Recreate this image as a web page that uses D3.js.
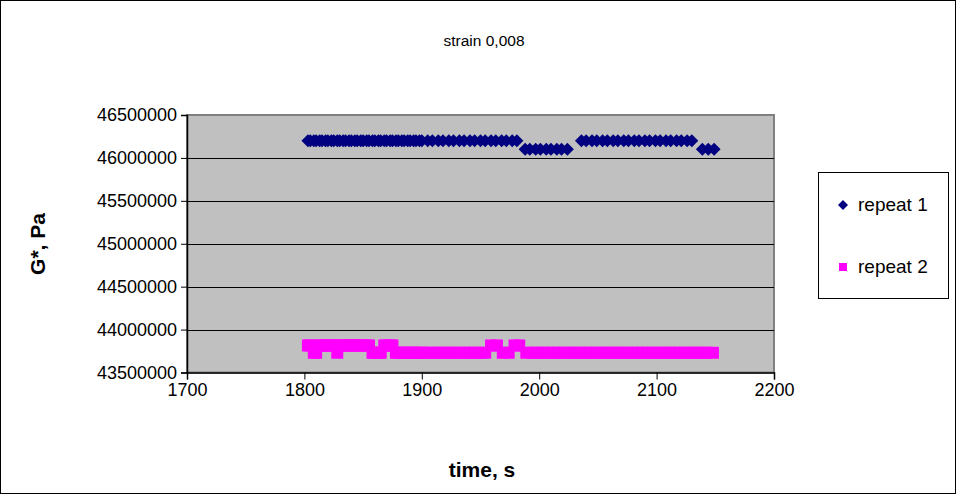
<!DOCTYPE html>
<html><head><meta charset="utf-8">
<script src="https://cdn.jsdelivr.net/npm/d3@7"></script>
<style>
html,body{margin:0;padding:0;background:#fff;}
svg{display:block;font-family:"Liberation Sans",Arial,sans-serif;}
</style></head>
<body>
<svg id="chart" width="957" height="495"></svg>
<script>
// ---- data ----
const chartTitle = "strain 0,008";
const xTicks = [1700, 1800, 1900, 2000, 2100, 2200];
const yTicks = [43500000, 44000000, 44500000, 45000000, 45500000, 46000000, 46500000];
const seriesNames = ["repeat 1", "repeat 2"];

const time1 = [1803,1805,1808,1810,1813,1815,1818,1820,1823,1825,1828,1830,1833,1835,1838,1840,1843,1845,1848,1850,
  1853,1855,1858,1860,1863,1865,1868,1870,1873,1875,1878,1880,1883,1885,1888,1890,1893,1895,1898,1900,
  1905,1909,1914,1918,1923,1927,1932,1936,1941,1945,1950,1954,1959,1963,1968,1972,1977,1981,
  1988,1992,1997,2001,2006,2010,2015,2019,2024,
  2036,2040,2045,2049,2054,2058,2063,2067,2072,2076,2081,2085,2090,2094,2099,2103,2108,2112,2117,2121,2126,2130,
  2139,2144,2149];
const g1 = [46200000,46200000,46200000,46200000,46200000,46200000,46200000,46200000,46200000,46200000,
  46200000,46200000,46200000,46200000,46200000,46200000,46200000,46200000,46200000,46200000,
  46200000,46200000,46200000,46200000,46200000,46200000,46200000,46200000,46200000,46200000,
  46200000,46200000,46200000,46200000,46200000,46200000,46200000,46200000,46200000,46200000,
  46200000,46200000,46200000,46200000,46200000,46200000,46200000,46200000,46200000,46200000,
  46200000,46200000,46200000,46200000,46200000,46200000,46200000,46200000,
  46100000,46100000,46100000,46100000,46100000,46100000,46100000,46100000,46100000,
  46200000,46200000,46200000,46200000,46200000,46200000,46200000,46200000,46200000,46200000,46200000,
  46200000,46200000,46200000,46200000,46200000,46200000,46200000,46200000,46200000,46200000,46200000,
  46100000,46100000,46100000];

const time2 = [1803,1805,1808,1810,1813,1815,1818,1820,1823,1825,1828,1830,1833,1835,1838,1840,1843,1845,1848,1850,
  1853,1855,1858,1860,1863,1865,1868,1870,1873,1875,1878,1880,1883,1885,1888,1890,1893,1895,1898,1900,
  1905,1909,1914,1918,1923,1927,1932,1936,1941,1945,1950,1954,1959,1964,1969,1974,1979,1983,
  1989,1994,1998,2003,2007,2012,2016,2021,2025,2030,2034,2039,2043,2048,2052,2057,2061,2066,2070,2075,
  2079,2084,2088,2093,2097,2102,2106,2111,2115,2120,2124,2129,2133,2138,2142,2148];
const g2 = [43815000,43815000,43730000,43730000,43815000,43815000,43815000,43815000,43815000,43815000,
  43730000,43815000,43815000,43815000,43815000,43815000,43815000,43815000,43815000,43815000,
  43815000,43815000,43730000,43730000,43730000,43730000,43815000,43815000,43815000,43815000,
  43730000,43730000,43730000,43730000,43730000,43730000,43730000,43730000,43730000,43730000,
  43730000,43730000,43730000,43730000,43730000,43730000,43730000,43730000,43730000,43730000,
  43730000,43730000,43815000,43815000,43730000,43730000,43815000,43815000,
  43730000,43730000,43730000,43730000,43730000,43730000,43730000,43730000,43730000,43730000,
  43730000,43730000,43730000,43730000,43730000,43730000,43730000,43730000,43730000,43730000,
  43730000,43730000,43730000,43730000,43730000,43730000,43730000,43730000,43730000,43730000,
  43730000,43730000,43730000,43730000,43730000,43730000];

const colors = ["#000080", "#FF00FF"];

// ---- layout ----
const W = 957, H = 495;
const plot = {left: 187, right: 774, top: 115, bottom: 372.5};
const svg = d3.select("#chart");

svg.append("rect").attr("x",0.5).attr("y",0.5).attr("width",W-2).attr("height",H-2)
  .attr("fill","#fff").attr("stroke","#000").attr("stroke-width",1);

const x = d3.scaleLinear().domain([xTicks[0], xTicks[xTicks.length-1]]).range([plot.left, plot.right]);
const y = d3.scaleLinear().domain([yTicks[0], yTicks[yTicks.length-1]]).range([plot.bottom, plot.top]);

// plot area
svg.append("rect").attr("x",plot.left).attr("y",plot.top)
  .attr("width",plot.right-plot.left).attr("height",plot.bottom-plot.top)
  .attr("fill","#C0C0C0").attr("stroke","#808080").attr("stroke-width",2);

// gridlines
svg.append("g").selectAll("line").data(yTicks.slice(1,-1)).join("line")
  .attr("x1",plot.left).attr("x2",plot.right)
  .attr("y1",d=>Math.round(y(d))+0.5).attr("y2",d=>Math.round(y(d))+0.5)
  .attr("stroke","#000").attr("stroke-width",1);

// axes
const xAxis = d3.axisBottom(x).tickValues(xTicks).tickSize(7).tickPadding(4).tickFormat(d3.format("d"));
const gx = svg.append("g").attr("transform",`translate(0,${plot.bottom})`).call(xAxis);
gx.select(".domain").attr("stroke","#000").attr("stroke-width",1.5);
gx.selectAll(".tick line").attr("stroke","#000");
gx.selectAll("text").attr("font-size",18).attr("fill","#000")
  .attr("font-family","Liberation Sans, Arial, sans-serif");

const yAxis = d3.axisLeft(y).tickValues(yTicks).tickSize(6).tickPadding(4).tickFormat(d3.format("d"));
const gy = svg.append("g").attr("transform",`translate(${plot.left},0)`).call(yAxis);
gy.select(".domain").attr("stroke","#000").attr("stroke-width",1.5);
gy.selectAll(".tick line").attr("stroke","#000");
gy.selectAll("text").attr("font-size",18).attr("fill","#000")
  .attr("font-family","Liberation Sans, Arial, sans-serif");

// markers
const diamond = r => `M0,${-r}L${r},0L0,${r}L${-r},0Z`;
const d1 = time1.map((t,i)=>({t, v:g1[i]}));
const d2 = time2.map((t,i)=>({t, v:g2[i]}));

svg.append("g").selectAll("path").data(d1).join("path")
  .attr("d", diamond(6.5))
  .attr("transform", d=>`translate(${x(d.t)},${y(d.v)})`)
  .attr("fill", colors[0]);

const sq = 12;
svg.append("g").selectAll("rect").data(d2).join("rect")
  .attr("x", d=>x(d.t)-sq/2).attr("y", d=>y(d.v)-sq/2)
  .attr("width", sq).attr("height", sq)
  .attr("fill", colors[1]);

// title
svg.append("text").attr("x",484).attr("y",46).attr("text-anchor","middle")
  .attr("font-size",15.5).text(chartTitle);

// axis titles
svg.append("text").attr("x",482).attr("y",477).attr("text-anchor","middle")
  .attr("font-size",21).attr("font-weight","bold").text("time, s");
svg.append("text").attr("transform","translate(45,244) rotate(-90)").attr("text-anchor","middle")
  .attr("font-size",21).attr("font-weight","bold").text("G*, Pa");

// legend
const lg = svg.append("g");
lg.append("rect").attr("x",818.5).attr("y",172.5).attr("width",130).attr("height",126)
  .attr("fill","#fff").attr("stroke","#000").attr("stroke-width",1);
lg.append("path").attr("d",diamond(5)).attr("transform","translate(843,205)").attr("fill",colors[0]);
lg.append("rect").attr("x",839).attr("y",263).attr("width",8).attr("height",8).attr("fill",colors[1]);
lg.append("text").attr("x",858).attr("y",211).attr("font-size",19).text(seriesNames[0]);
lg.append("text").attr("x",858).attr("y",273).attr("font-size",19).text(seriesNames[1]);
</script>
</body></html>
